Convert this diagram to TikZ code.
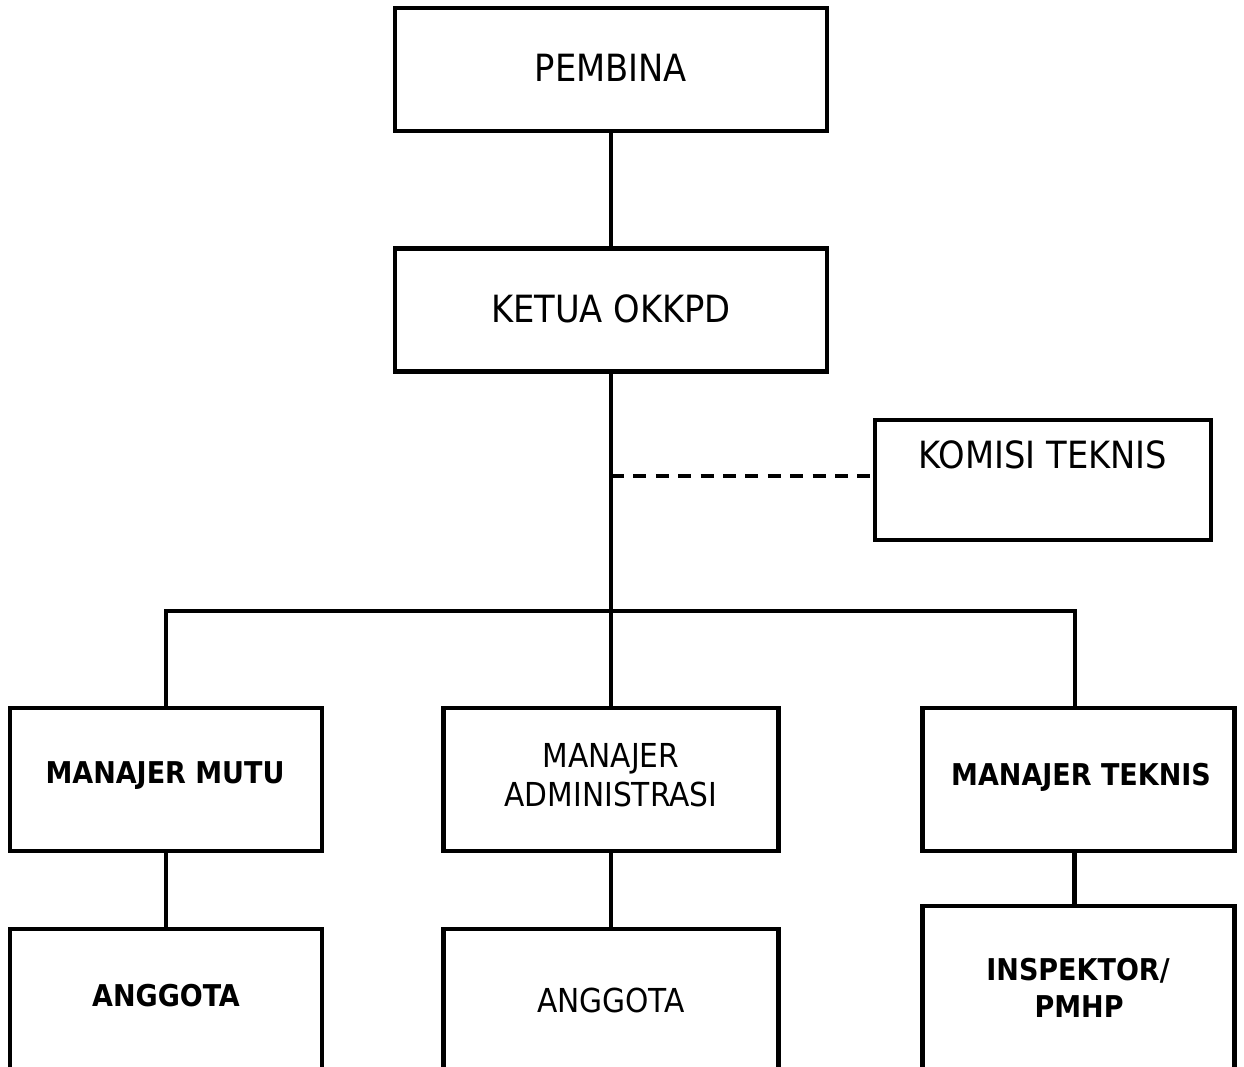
\documentclass[tikz,border=0pt]{standalone}
\usepackage{fontspec}
\setmainfont{DejaVu Sans Condensed}[BoldFont={DejaVu Sans Condensed Bold}]
\begin{document}
\begin{tikzpicture}[x=1pt,y=-1pt,
  box/.style={draw=black,line width=4.5pt,rectangle,inner sep=0pt,fill=white},
  conn/.style={draw=black,line width=4.5pt},
  dconn/.style={draw=black,line width=4.5pt,dash pattern=on 13pt off 9.4pt},
  big/.style={anchor=base,inner sep=0pt,font=\fontsize{37.5}{42}\selectfont},
  mid/.style={anchor=base,inner sep=0pt,font=\fontsize{33}{38}\selectfont},
  bld/.style={anchor=base,inner sep=0pt,font=\fontsize{30}{34}\selectfont\bfseries}]
\useasboundingbox (0,0) rectangle (1244,1067);
\clip (0,0) rectangle (1244,1067);
% boxes
\node[box,minimum width=432pt,minimum height=123pt] (pembina) at (611,69.5) {};
\node[box,minimum width=432pt,minimum height=123pt] (ketua) at (611,310) {};
\node[box,minimum width=336pt,minimum height=120pt] (komisi) at (1043,480) {};
\node[box,minimum width=312pt,minimum height=143pt] (mmutu) at (166,779.5) {};
\node[box,minimum width=335pt,minimum height=143pt] (madm) at (611,779.5) {};
\node[box,minimum width=312pt,minimum height=143pt] (mtek) at (1078.5,779.5) {};
\node[box,minimum width=312pt,minimum height=200pt] (ang1) at (166,1029) {};
\node[box,minimum width=335pt,minimum height=200pt] (ang2) at (611,1029) {};
\node[box,minimum width=312pt,minimum height=220pt] (insp) at (1078.5,1016) {};
\coordinate (bar) at (611,611);
\coordinate (dash) at (611,476);
% connectors
\draw[conn] (pembina.south) -- (ketua.north);
\draw[conn] (ketua.south) -- (bar);
\draw[dconn] (dash) -- (dash -| komisi.west);
\draw[conn] (mmutu.north) |- (bar) -| ([xshift=-3.5pt]mtek.north);
\draw[conn] (bar) -- (madm.north);
\draw[conn] (mmutu.south) -- (ang1.north);
\draw[conn] (madm.south) -- (ang2.north);
\draw[conn] ([xshift=-4pt]mtek.south) -- ([xshift=-4pt]insp.north);
% labels
\node[big] (tpembina) at (611,82) {PEMBINA};
\node[big] (tketua) at (611,322) {KETUA OKKPD};
\node[big] (tkomisi) at (1043,468) {KOMISI TEKNIS};
\node[mid] (tmadm1) at (611,767) {MANAJER};
\node[mid] (tmadm2) at (611,806) {ADMINISTRASI};
\node[bld] (tmmutu) at (165,783) {MANAJER MUTU};
\node[bld] (tmtek) at (1081,785) {MANAJER TEKNIS};
\node[bld] (tang1) at (166,1006) {ANGGOTA};
\node[mid] (tang2) at (611,1012) {ANGGOTA};
\node[bld] (tinsp1) at (1078,980) {INSPEKTOR/};
\node[bld] (tinsp2) at (1079,1017) {PMHP};
\end{tikzpicture}
\end{document}
